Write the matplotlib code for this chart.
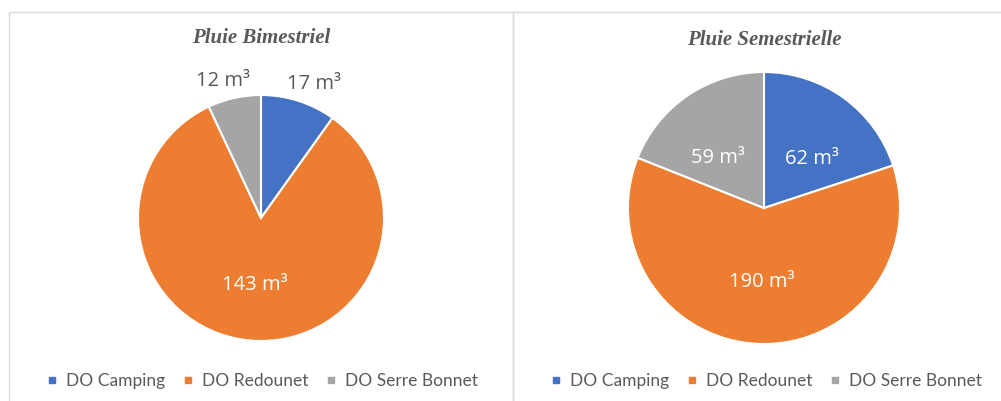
import matplotlib.pyplot as plt
import numpy as np
from matplotlib.lines import Line2D
from matplotlib.patches import Rectangle

# data
categories = ['DO Camping', 'DO Redounet', 'DO Serre Bonnet']
bimestriel = [17, 143, 12]
semestriel = [62, 190, 59]
titles = ['Pluie Bimestriel', 'Pluie Semestrielle']
colors = ['#4472C4', '#ED7D31', '#A5A5A5']

W, H = 1001, 401
TXT = '#595959'
plt.rcParams['font.family'] = ['Lato', 'DejaVu Sans']

fig = plt.figure(figsize=(W / 100, H / 100), dpi=100)

# chart frames (light grey, Excel style)
fig.patches.append(Rectangle((9 / W, -0.1), 504 / W, (H - 12) / H + 0.1, transform=fig.transFigure,
                             fill=False, edgecolor='#d9d9d9', linewidth=1))
fig.patches.append(Rectangle((513 / W, -0.1), 600 / W, (H - 12) / H + 0.1, transform=fig.transFigure,
                             fill=False, edgecolor='#d9d9d9', linewidth=1))


def draw_pie(cx, cy, r, values, title, title_y, legend_x, outside):
    # cx, cy in pixels from top-left
    ax = fig.add_axes([(cx - r) / W, (H - cy - r) / H, 2 * r / W, 2 * r / H])
    wedges, _ = ax.pie(values, colors=colors, startangle=90, counterclock=False,
                       wedgeprops=dict(edgecolor='white', linewidth=1.5))
    ax.set_xlim(-1, 1)
    ax.set_ylim(-1, 1)
    ax.set_aspect('equal')
    ax.axis('off')
    for w, v, out in zip(wedges, values, outside):
        ang = np.deg2rad((w.theta1 + w.theta2) / 2)
        # text is wider than tall, so push labels a bit more sideways
        if out:
            x, y = 1.42 * np.cos(ang), 1.16 * np.sin(ang)
            dy = -2
        else:
            x, y = 0.6 * np.cos(ang), 0.5 * np.sin(ang)
            dy = -6
        ax.annotate(f'{v} m³', (x, y), xytext=(0, dy), textcoords='offset pixels',
                    ha='center', va='center', fontsize=14.5, family='Open Sans',
                    color=TXT if out else 'white', annotation_clip=False)
    fig.text(cx / W, 1 - title_y / H, title, ha='center', va='center', fontsize=15,
             family='Liberation Serif', weight='bold', style='italic', color=TXT)
    handles = [Line2D([], [], marker='s', linestyle='none', markersize=5, color=c) for c in colors]
    fig.legend(handles, categories, loc='center left', bbox_to_anchor=(legend_x / W, 1 - 381 / H),
               ncol=3, frameon=False, fontsize=12.5, labelcolor=TXT, handlelength=0.6,
               handletextpad=0.5, columnspacing=1.0, borderaxespad=0, borderpad=0)


draw_pie(261, 218, 123, bimestriel, titles[0], 38, 47, [True, False, True])
draw_pie(764, 208, 136, semestriel, titles[1], 40, 551, [False, False, False])

fig.savefig('out.png', dpi=100)
